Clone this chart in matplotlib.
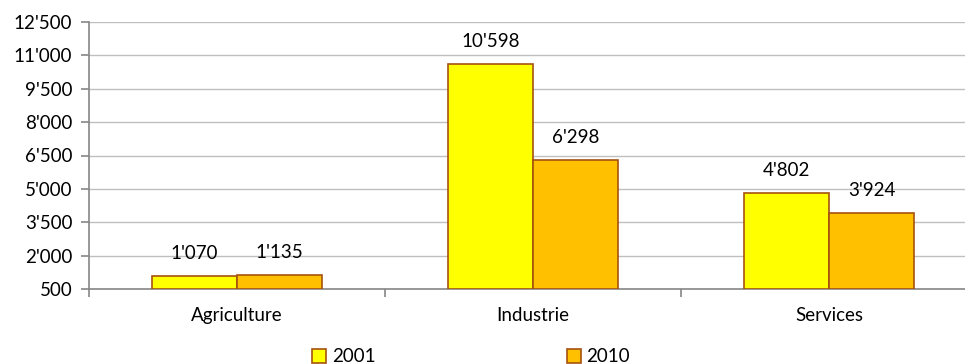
import matplotlib
matplotlib.use("Agg")
import matplotlib.pyplot as plt
import numpy as np
from matplotlib.patches import Patch

plt.rcParams['font.family'] = ['Lato', 'DejaVu Sans']

categories = ["Agriculture", "Industrie", "Services"]
series_names = ["2001", "2010"]
values_2001 = [1070, 10598, 4802]
values_2010 = [1135, 6298, 3924]
y_ticks = [500, 2000, 3500, 5000, 6500, 8000, 9500, 11000, 12500]

colors = ["#FFFF00", "#FFC000"]
edge = "#A5520F"
fs = 13.5

def fmt(v):
    return f"{v:,}".replace(",", "'")

fig = plt.figure(figsize=(9.65, 3.64), dpi=100)
ax = fig.add_axes([89/965, 1-289/364, 888/965, 267/364])

x = np.arange(len(categories))
w = 0.287
base = y_ticks[0]
for i, (vals, c, name) in enumerate(zip([values_2001, values_2010], colors, series_names)):
    pos = x + (i - 0.5) * w
    heights = [v - base for v in vals]
    ax.bar(pos, heights, width=w, bottom=base, color=c, edgecolor=edge,
           linewidth=1.2, zorder=3, label=name)
    for p, v in zip(pos, vals):
        ax.annotate(fmt(v), (p, v), xytext=(0, 10), textcoords="offset points",
                    ha="center", va="bottom", fontsize=fs, color="black")

ax.set_xlim(-0.5, len(categories) - 0.5)
ax.set_ylim(y_ticks[0], y_ticks[-1])
ax.set_yticks(y_ticks)
ax.set_yticklabels([fmt(t) for t in y_ticks], fontsize=fs)
ax.set_xticks(x)
ax.set_xticklabels(categories, fontsize=fs)
ax.set_xticks(np.arange(len(categories) + 1) - 0.5, minor=True)
ax.tick_params(axis="x", which="major", length=0, pad=13)
ax.tick_params(axis="x", which="minor", length=6, color="#868686", width=1.2)
ax.tick_params(axis="y", length=6, color="#868686", width=1.2, pad=6)

ax.yaxis.grid(True, color="#BFBFBF", linewidth=1, zorder=0)
for s in ["top", "right"]:
    ax.spines[s].set_visible(False)
for s in ["left", "bottom"]:
    ax.spines[s].set_color("#868686")
    ax.spines[s].set_linewidth(1.2)

handles = [Patch(facecolor=c, edgecolor=edge, linewidth=1.2) for c in colors]
fig.legend(handles, series_names, loc="center", bbox_to_anchor=(471/965, 1-357/364),
           ncol=2, frameon=False, fontsize=fs, handlelength=0.75, handleheight=0.75,
           handletextpad=0.3, columnspacing=10.2, borderaxespad=0, borderpad=0)

fig.savefig("out.png", dpi=100)
